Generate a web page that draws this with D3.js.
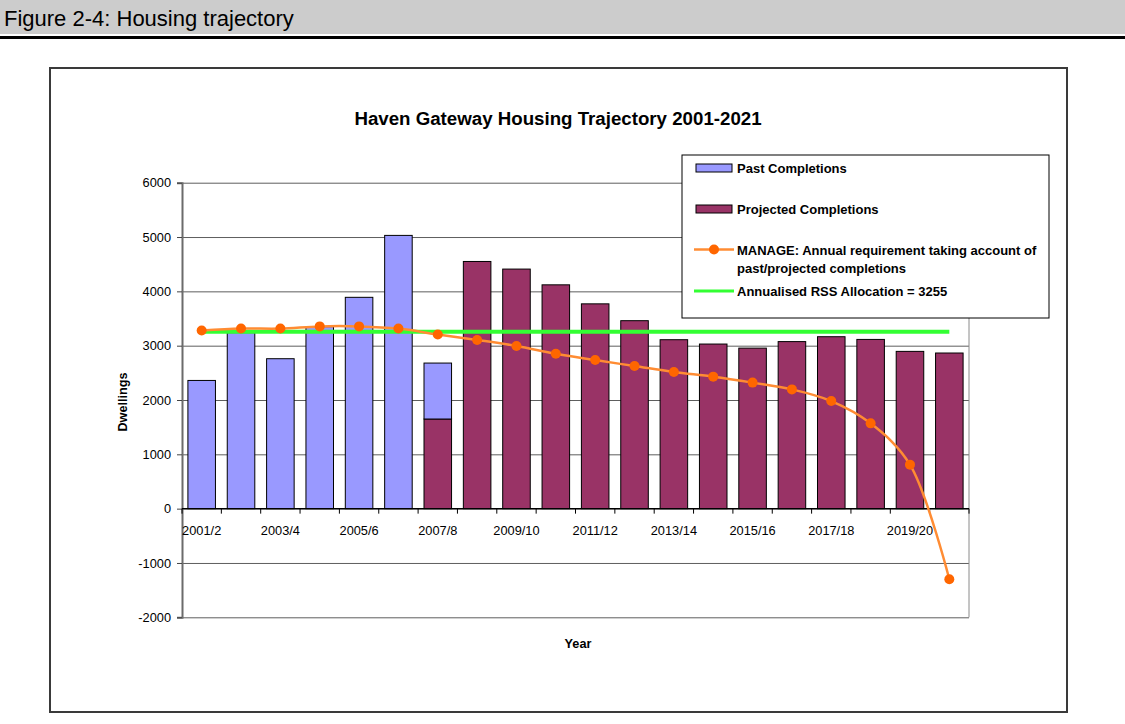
<!DOCTYPE html>
<html>
<head>
<meta charset="utf-8">
<script src="https://cdn.jsdelivr.net/npm/d3@7"></script>
<style>
  html, body { margin: 0; padding: 0; background: #fff; }
  svg { display: block; font-family: "Liberation Sans", Arial, Helvetica, sans-serif; }
</style>
</head>
<body>
<svg id="chart" width="1125" height="724"></svg>
<script>
// ---------- data ----------
const categories = ["2001/2","2002/3","2003/4","2004/5","2005/6","2006/7","2007/8","2008/9","2009/10","2010/11",
                    "2011/12","2012/13","2013/14","2014/15","2015/16","2016/17","2017/18","2018/19","2019/20","2020/21"];
const pastCompletions      = [2360, 3240, 2760, 3350, 3890, 5030, 1030, 0, 0, 0, 0, 0, 0, 0, 0, 0, 0, 0, 0, 0];
const projectedCompletions = [0, 0, 0, 0, 0, 0, 1650, 4550, 4410, 4120, 3770, 3460, 3110, 3030, 2955, 3075, 3165, 3115, 2895, 2865];
const manageRequirement    = [3280, 3315, 3315, 3355, 3355, 3315, 3205, 3105, 2995, 2850, 2735, 2625, 2515, 2430, 2320, 2195, 1980, 1570, 810, -1300];
const rssAllocation        = [3255, 3255, 3255, 3255, 3255, 3255, 3255, 3255, 3255, 3255, 3255, 3255, 3255, 3255, 3255, 3255, 3255, 3255, 3255, 3255];
const yTicks = [-2000, -1000, 0, 1000, 2000, 3000, 4000, 5000, 6000];
const xTickLabels = ["2001/2","2003/4","2005/6","2007/8","2009/10","2011/12","2013/14","2015/16","2017/18","2019/20"];
const legendLabels = ["Past Completions", "Projected Completions",
                      ["MANAGE: Annual requirement taking account of", "past/projected completions"],
                      "Annualised RSS Allocation = 3255"];

// ---------- layout ----------
const svg = d3.select("#chart");
const FONT = '"Liberation Sans", Arial, Helvetica, sans-serif';
const plot = { left: 182, right: 969, top: 182.7, bottom: 617.3 };
const colPast = "#9999FF", colProj = "#993366", colManage = "#FF8C33", colMarker = "#FF6600", colRss = "#33FF33";

// header band
svg.append("rect").attr("x", 0).attr("y", 0).attr("width", 1125).attr("height", 34).attr("fill", "#CCCCCC");
svg.append("rect").attr("x", 0).attr("y", 36).attr("width", 1125).attr("height", 3).attr("fill", "#000");
svg.append("text").attr("x", 4).attr("y", 26).attr("font-size", 22).attr("fill", "#000")
   .text("Figure 2-4: Housing trajectory");

// chart frame
svg.append("rect").attr("x", 50).attr("y", 68).attr("width", 1017).attr("height", 644)
   .attr("fill", "#fff").attr("stroke", "#3a3a3a").attr("stroke-width", 2);

// title
svg.append("text").attr("x", 558).attr("y", 125).attr("text-anchor", "middle")
   .attr("font-size", 18.7).attr("font-weight", "bold").text("Haven Gateway Housing Trajectory 2001-2021");

// scales
const x = d3.scaleBand().domain(categories).range([plot.left, plot.right]).paddingInner(0.3).paddingOuter(0.15);
const y = d3.scaleLinear().domain([-2000, 6000]).range([plot.bottom, plot.top]);
const step = x.step();

// gridlines
const grid = svg.append("g").attr("transform", `translate(${plot.left},0)`)
  .call(d3.axisLeft(y).tickValues(yTicks).tickSize(-(plot.right - plot.left)).tickFormat(""));
grid.select(".domain").remove();
grid.selectAll("line").attr("stroke", "#5e5e5e").attr("stroke-width", 1);

// plot area right border
svg.append("line").attr("x1", plot.right).attr("x2", plot.right).attr("y1", plot.top).attr("y2", plot.bottom)
   .attr("stroke", "#8a8a8a").attr("stroke-width", 1);

// y axis
const yAxis = svg.append("g").attr("transform", `translate(${plot.left},0)`)
  .call(d3.axisLeft(y).tickValues(yTicks).tickSize(5).tickPadding(6).tickFormat(d => String(d)));
yAxis.select(".domain").attr("stroke", "#6b6b6b").attr("stroke-width", 2);
yAxis.selectAll(".tick line").attr("stroke", "#444");
yAxis.selectAll("text").attr("font-size", 12.8).attr("font-family", FONT).attr("fill", "#000");

// stacked bars: projected at bottom, past on top
const stacked = d3.stack().keys(["projected", "past"])(
  categories.map((c, i) => ({ cat: c, projected: projectedCompletions[i], past: pastCompletions[i] })));
const barColors = { projected: colProj, past: colPast };
stacked.forEach(layer => {
  svg.append("g").selectAll("rect")
    .data(layer.filter(d => d[1] - d[0] > 0))
    .join("rect")
    .attr("x", d => x(d.data.cat))
    .attr("y", d => y(d[1]))
    .attr("width", x.bandwidth())
    .attr("height", d => y(d[0]) - y(d[1]))
    .attr("fill", barColors[layer.key])
    .attr("stroke", "#000").attr("stroke-width", 1);
});

// x axis at zero line
const xAxisY = y(0);
svg.append("line").attr("x1", plot.left).attr("x2", plot.right).attr("y1", xAxisY).attr("y2", xAxisY)
   .attr("stroke", "#000").attr("stroke-width", 1.2);
// boundary tick marks
const boundaries = categories.map(c => x(c) - step * x.paddingInner() / 2).concat([plot.right]);
svg.append("g").selectAll("line").data(boundaries).join("line")
   .attr("x1", d => d).attr("x2", d => d).attr("y1", xAxisY).attr("y2", xAxisY + 5)
   .attr("stroke", "#000");
const xAxis = svg.append("g").attr("transform", `translate(0,${xAxisY})`)
  .call(d3.axisBottom(x).tickSize(0).tickPadding(17)
        .tickFormat(d => xTickLabels.includes(d) ? d : ""));
xAxis.select(".domain").remove();
xAxis.selectAll("text").attr("font-size", 12.8).attr("font-family", FONT).attr("fill", "#000");

// RSS allocation line
const cx = c => x(c) + x.bandwidth() / 2;
svg.append("path")
  .datum(categories.map((c, i) => [cx(c), y(rssAllocation[i])]))
  .attr("d", d3.line())
  .attr("fill", "none").attr("stroke", colRss).attr("stroke-width", 4);

// MANAGE line
svg.append("path")
  .datum(categories.map((c, i) => [cx(c), y(manageRequirement[i])]))
  .attr("d", d3.line().curve(d3.curveCatmullRom.alpha(0.5)))
  .attr("fill", "none").attr("stroke", colManage).attr("stroke-width", 2.5);
svg.append("g").selectAll("circle")
  .data(categories.map((c, i) => ({ c, v: manageRequirement[i] })))
  .join("circle")
  .attr("cx", d => cx(d.c)).attr("cy", d => y(d.v)).attr("r", 5)
  .attr("fill", colMarker);

// axis titles
svg.append("text").attr("transform", "translate(127,402) rotate(-90)").attr("text-anchor", "middle")
   .attr("font-size", 12.7).attr("font-weight", "bold").text("Dwellings");
svg.append("text").attr("x", 578).attr("y", 648).attr("text-anchor", "middle")
   .attr("font-size", 12.7).attr("font-weight", "bold").text("Year");

// legend
const lg = svg.append("g");
lg.append("rect").attr("x", 682).attr("y", 155).attr("width", 367).attr("height", 163)
  .attr("fill", "#fff").attr("stroke", "#000").attr("stroke-width", 1);
const lgFont = 13;
const textX = 737;
// past
lg.append("rect").attr("x", 696).attr("y", 164).attr("width", 36).attr("height", 8)
  .attr("fill", colPast).attr("stroke", "#000");
lg.append("text").attr("x", textX).attr("y", 168 + 4.6).attr("font-size", lgFont).attr("font-weight", "bold").text(legendLabels[0]);
// projected
lg.append("rect").attr("x", 696).attr("y", 205).attr("width", 36).attr("height", 8)
  .attr("fill", colProj).attr("stroke", "#000");
lg.append("text").attr("x", textX).attr("y", 209 + 4.6).attr("font-size", lgFont).attr("font-weight", "bold").text(legendLabels[1]);
// manage
lg.append("line").attr("x1", 694).attr("x2", 734).attr("y1", 249.5).attr("y2", 249.5)
  .attr("stroke", colManage).attr("stroke-width", 2.5);
lg.append("circle").attr("cx", 714).attr("cy", 249.5).attr("r", 5).attr("fill", colMarker);
lg.append("text").attr("x", textX).attr("y", 250 + 4.6).attr("font-size", lgFont).attr("font-weight", "bold").text(legendLabels[2][0]);
lg.append("text").attr("x", textX).attr("y", 268 + 4.6).attr("font-size", lgFont).attr("font-weight", "bold").text(legendLabels[2][1]);
// rss
lg.append("line").attr("x1", 694).attr("x2", 734).attr("y1", 291).attr("y2", 291)
  .attr("stroke", colRss).attr("stroke-width", 3);
lg.append("text").attr("x", textX).attr("y", 291.5 + 4.6).attr("font-size", lgFont).attr("font-weight", "bold").text(legendLabels[3]);
</script>
</body>
</html>
